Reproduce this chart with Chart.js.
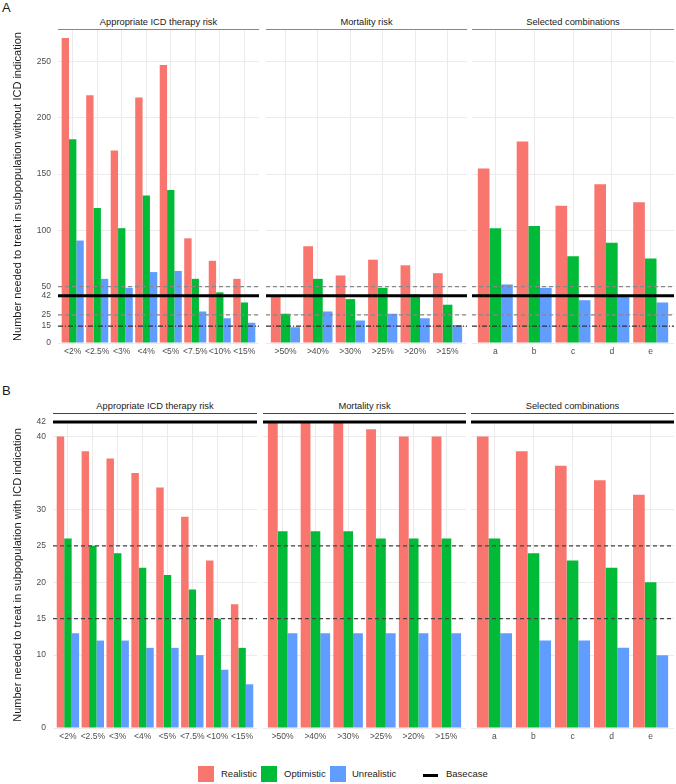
<!DOCTYPE html>
<html lang="en">
<head>
<meta charset="UTF-8">
<title>Number needed to treat by subpopulation</title>
<script src="https://cdn.jsdelivr.net/npm/chart.js"></script>
<style>
  body { margin: 0; background: #fff; font-family: "Liberation Sans", Arial, sans-serif; }
  #wrap { position: relative; width: 676px; height: 784px; overflow: hidden; }
  #wrap canvas { position: absolute; }
  .txt { position: absolute; white-space: nowrap; color: #1a1a1a; }
  .strip { position: absolute; text-align: center; font-size: 9.3px; color: #1a1a1a; height: 14px; line-height: 14px; }
  .sq { position: absolute; width: 16px; height: 16px; }
</style>
</head>
<body>
<div id="wrap">
  <div class="txt" style="left:2px;top:0px;font-size:13px;">A</div>
  <div class="txt" style="left:2px;top:383px;font-size:13px;">B</div>
</div>

<script>
// categories
const therapyLabels = ['<2%', '<2.5%', '<3%', '<4%', '<5%', '<7.5%', '<10%', '<15%'];
const mortalityLabels = ['>50%', '>40%', '>30%', '>25%', '>20%', '>15%'];
const comboLabels = ['a', 'b', 'c', 'd', 'e'];
const facetTitles = ['Appropriate ICD therapy risk', 'Mortality risk', 'Selected combinations'];

// panel A - without ICD indication
const realisticA_therapy = [271, 220, 171, 218, 247, 93, 73, 57];
const optimisticA_therapy = [181, 120, 102, 131, 136, 57, 45, 36];
const unrealisticA_therapy = [91, 57, 49, 63, 64, 28, 22, 18];
const realisticA_mortality = [41, 86, 60, 74, 69, 62];
const optimisticA_mortality = [26, 57, 39, 49, 43, 34];
const unrealisticA_mortality = [14, 28, 20, 26, 22, 16];
const realisticA_combo = [155, 179, 122, 141, 125];
const optimisticA_combo = [102, 104, 77, 89, 75];
const unrealisticA_combo = [52, 49, 38, 42, 36];

// panel B - with ICD indication
const realisticB_therapy = [40, 38, 37, 35, 33, 29, 23, 17];
const optimisticB_therapy = [26, 25, 24, 22, 21, 19, 15, 11];
const unrealisticB_therapy = [13, 12, 12, 11, 11, 10, 8, 6];
const realisticB_mortality = [42, 42, 42, 41, 40, 40];
const optimisticB_mortality = [27, 27, 27, 26, 26, 26];
const unrealisticB_mortality = [13, 13, 13, 13, 13, 13];
const realisticB_combo = [40, 38, 36, 34, 32];
const optimisticB_combo = [26, 24, 23, 22, 20];
const unrealisticB_combo = [13, 12, 12, 11, 10];

// y ticks and reference lines
const ticksA = [0, 15, 25, 42, 50, 100, 150, 200, 250];
const ticksB = [0, 10, 15, 20, 25, 30, 40, 42];
const basecase = 42;
const dashedA = [50, 25, 15];
const dashedB = [25, 15];

const FONT = '"Liberation Sans", Arial, sans-serif';
const RED = '#F8766D', GREEN = '#00BA38', BLUE = '#619CFF';
const TOP_PAD = 8;
const wrap = document.getElementById('wrap');

const refLines = {
  id: 'refLines',
  afterDatasetsDraw(chart, args, opts) {
    const { ctx, chartArea, scales } = chart;
    opts.lines.forEach(l => {
      const py = scales.y.getPixelForValue(l.v);
      ctx.save();
      ctx.strokeStyle = l.color;
      ctx.lineWidth = l.w;
      ctx.setLineDash(l.dash || []);
      ctx.beginPath();
      ctx.moveTo(chartArea.left, py);
      ctx.lineTo(chartArea.right, py);
      ctx.stroke();
      ctx.restore();
    });
  }
};

function lineStyles(dashed, panel) {
  const out = dashed.map(v => {
    if (panel === 'A') {
      if (v === 15) return { v, color: '#333', w: 1.2, dash: [5, 2, 1, 2] };
      return { v, color: '#888', w: 1.2, dash: [4, 3] };
    }
    return { v, color: '#444', w: 1.2, dash: [4, 3] };
  });
  out.push({ v: basecase, color: '#000', w: 3 });
  return out;
}

function addStrip(text, left, right, lineY, lineCol, lineW) {
  const d = document.createElement('div');
  d.className = 'strip';
  d.textContent = text;
  d.style.left = left + 'px';
  d.style.width = (right - left) + 'px';
  d.style.top = (lineY - 14) + 'px';
  d.style.borderBottom = lineW + 'px solid ' + lineCol;
  wrap.appendChild(d);
}

function facet(cfg) {
  const c = document.createElement('canvas');
  const canvasLeft = cfg.first ? 0 : cfg.left;
  const w = cfg.right - canvasLeft;
  const h = cfg.bottom - cfg.top + TOP_PAD + 20;
  c.width = w; c.height = h;
  c.style.left = canvasLeft + 'px';
  c.style.top = (cfg.top - TOP_PAD) + 'px';
  c.style.width = w + 'px';
  c.style.height = h + 'px';
  wrap.appendChild(c);

  new Chart(c, {
    type: 'bar',
    data: {
      labels: cfg.labels,
      datasets: [
        { label: 'Realistic', data: cfg.real, backgroundColor: RED },
        { label: 'Optimistic', data: cfg.opt, backgroundColor: GREEN },
        { label: 'Unrealistic', data: cfg.unreal, backgroundColor: BLUE }
      ]
    },
    options: {
      responsive: false,
      animation: false,
      layout: { padding: { top: TOP_PAD, left: 0, right: 0, bottom: 0 } },
      datasets: { bar: { categoryPercentage: 0.9, barPercentage: 1.0, borderWidth: 0 } },
      plugins: {
        legend: { display: false },
        tooltip: { enabled: false },
        refLines: { lines: cfg.lines }
      },
      scales: {
        x: {
          grid: { color: '#ebebeb', offset: false, drawTicks: false },
          border: { display: false },
          ticks: { font: { size: 8.5, family: FONT }, color: '#4d4d4d', maxRotation: 0, autoSkip: false, padding: 4 },
          afterBuildTicks: s => {
            // ggplot-like discrete expansion (0.6 units each side)
            s._startValue = -0.6;
            s._valueRange = s.getLabels().length + 0.2;
          },
          afterFit: s => {
            s.height = 20;
            s.paddingLeft = 0; s.paddingRight = 0;
          }
        },
        y: {
          min: 0,
          max: cfg.max,
          grid: { color: '#ebebeb', drawTicks: false },
          border: { display: false },
          afterBuildTicks: s => { s.ticks = cfg.ticks.map(v => ({ value: v })); },
          ticks: { display: cfg.first, font: { size: 8.5, family: FONT }, color: '#4d4d4d', padding: 7 },
          title: {
            display: cfg.first,
            text: cfg.title || '',
            font: { size: 11, family: FONT },
            color: '#1a1a1a',
            padding: { top: 11, bottom: 0 }
          },
          afterFit: s => {
            s.width = cfg.first ? cfg.left : 0;
            // keep plot area identical across facets
            s.paddingTop = 0; s.paddingBottom = 0;
          }
        }
      }
    },
    plugins: [refLines]
  });
}

// panel A
const boxA = [[58, 259], [266, 467], [472, 674]];
const dataA = [
  [therapyLabels, realisticA_therapy, optimisticA_therapy, unrealisticA_therapy],
  [mortalityLabels, realisticA_mortality, optimisticA_mortality, unrealisticA_mortality],
  [comboLabels, realisticA_combo, optimisticA_combo, unrealisticA_combo]
];
dataA.forEach((d, i) => {
  addStrip(facetTitles[i], boxA[i][0], boxA[i][1], 29, '#888', 1.5);
  facet({
    first: i === 0, left: boxA[i][0], right: boxA[i][1], top: 30, bottom: 343,
    labels: d[0], real: d[1], opt: d[2], unreal: d[3],
    max: 278, ticks: ticksA, lines: lineStyles(dashedA, 'A'),
    title: 'Number needed to treat in subpopulation without ICD indication'
  });
});

// panel B
const boxB = [[53, 257], [263, 466], [471, 674]];
const dataB = [
  [therapyLabels, realisticB_therapy, optimisticB_therapy, unrealisticB_therapy],
  [mortalityLabels, realisticB_mortality, optimisticB_mortality, unrealisticB_mortality],
  [comboLabels, realisticB_combo, optimisticB_combo, unrealisticB_combo]
];
dataB.forEach((d, i) => {
  addStrip(facetTitles[i], boxB[i][0], boxB[i][1], 413, '#444', 1.2);
  facet({
    first: i === 0, left: boxB[i][0], right: boxB[i][1], top: 422, bottom: 728,
    labels: d[0], real: d[1], opt: d[2], unreal: d[3],
    max: 42, ticks: ticksB, lines: lineStyles(dashedB, 'B'),
    title: 'Number needed to treat in subpopulation with ICD indication'
  });
});

// legend
const legendItems = [
  { type: 'box', color: RED, x: 198, label: 'Realistic', tx: 221 },
  { type: 'box', color: GREEN, x: 261, label: 'Optimistic', tx: 284 },
  { type: 'box', color: BLUE, x: 330, label: 'Unrealistic', tx: 352 },
  { type: 'line', color: '#000', x: 423, label: 'Basecase', tx: 446 }
];
legendItems.forEach(it => {
  const k = document.createElement('div');
  if (it.type === 'box') {
    k.className = 'sq';
    k.style.left = it.x + 'px';
    k.style.top = '766px';
    k.style.background = it.color;
  } else {
    k.style.position = 'absolute';
    k.style.left = it.x + 'px';
    k.style.top = '774px';
    k.style.width = '15px';
    k.style.height = '3px';
    k.style.background = it.color;
  }
  wrap.appendChild(k);
  const t = document.createElement('div');
  t.className = 'txt';
  t.textContent = it.label;
  t.style.left = it.tx + 'px';
  t.style.top = '768px';
  t.style.fontSize = '9.5px';
  t.style.lineHeight = '12px';
  wrap.appendChild(t);
});
</script>
</body>
</html>
